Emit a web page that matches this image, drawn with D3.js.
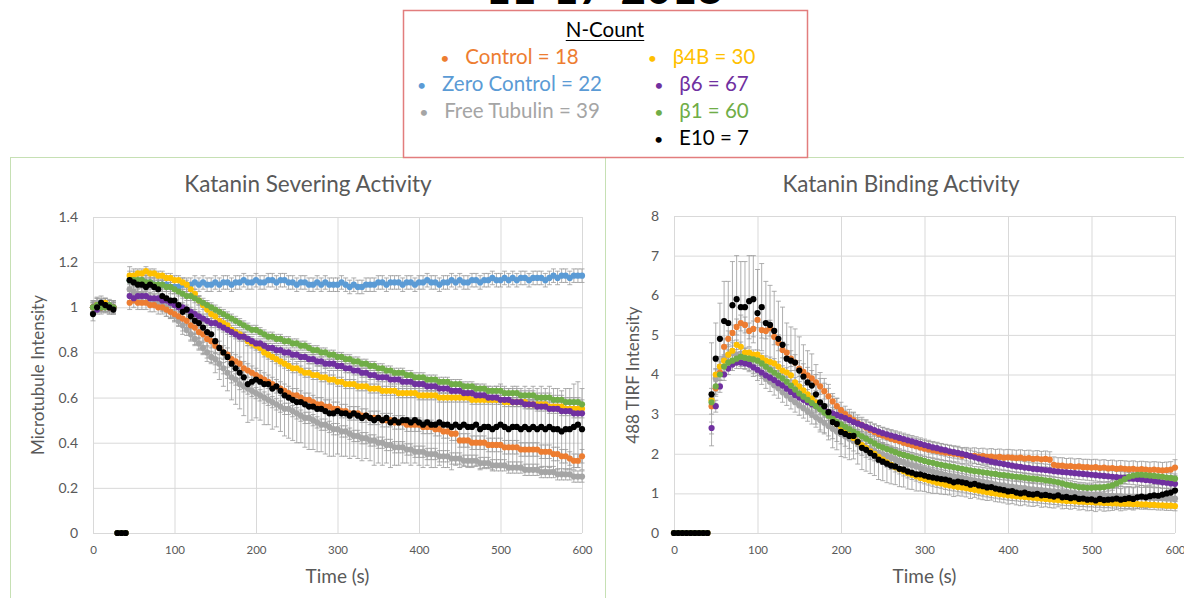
<!DOCTYPE html>
<html lang="en">
<head>
<meta charset="UTF-8">
<title>Katanin Severing / Binding Activity</title>
<script src="https://d3js.org/d3.v7.min.js"></script>
<style>
  body { margin: 0; background: #fff; overflow: hidden; }
  svg { display: block; font-family: Lato, "Open Sans", sans-serif; }
  .tick text { fill: #595959; font-family: Lato, sans-serif; }
  .grid line { stroke: #d9d9d9; stroke-width: 1; }
  .chart-title { fill: #595959; font-size: 22.5px; text-anchor: middle; }
  .axis-title { fill: #595959; font-size: 17px; text-anchor: middle; }
  .legend text { font-size: 20.5px; }
</style>
</head>
<body>
<svg id="chart" width="1184" height="598"></svg>
<script>
// ---- data ----
const times = [0,5,10,15,20,25,30,35,40,45,50,55,60,65,70,75,80,85,90,95,100,105,110,115,120,125,130,135,140,145,150,155,160,165,170,175,180,185,190,195,200,205,210,215,220,225,230,235,240,245,250,255,260,265,270,275,280,285,290,295,300,305,310,315,320,325,330,335,340,345,350,355,360,365,370,375,380,385,390,395,400,405,410,415,420,425,430,435,440,445,450,455,460,465,470,475,480,485,490,495,500,505,510,515,520,525,530,535,540,545,550,555,560,565,570,575,580,585,590,595,600];

const seriesNames  = ["Control", "Zero Control", "Free Tubulin", "β4B", "β6", "β1", "E10"];
const seriesCounts = [18, 22, 39, 30, 67, 60, 7];
const xTicks = [0, 100, 200, 300, 400, 500, 600];
const yTicksLeft = [0, 0.2, 0.4, 0.6, 0.8, 1, 1.2, 1.4];
const yTicksRight = [0, 1, 2, 3, 4, 5, 6, 7, 8];

// Katanin severing activity (microtubule intensity)
const ctrlL = [1.00,1.01,1.00,1.01,1.00,1.00,0,0,0,
1.02,1.03,1.02,1.02,1.02,1.01,1.01,1.00,1.00,0.99,
0.98,0.97,0.96,0.95,0.94,0.92,0.91,0.89,0.88,0.86,
0.85,0.83,0.82,0.80,0.79,0.77,0.76,0.75,0.73,0.72,
0.71,0.70,0.69,0.68,0.67,0.66,0.65,0.64,0.63,0.62,
0.61,0.61,0.60,0.59,0.59,0.58,0.57,0.57,0.56,0.56,
0.55,0.55,0.54,0.54,0.53,0.53,0.53,0.52,0.52,0.51,
0.51,0.51,0.50,0.50,0.50,0.49,0.49,0.49,0.48,0.48,
0.48,0.48,0.47,0.47,0.47,0.46,0.46,0.45,0.45,0.44,
0.44,0.41,0.41,0.41,0.40,0.40,0.40,0.40,0.39,0.39,
0.39,0.39,0.38,0.38,0.38,0.38,0.37,0.37,0.37,0.37,
0.37,0.36,0.36,0.36,0.35,0.35,0.34,0.34,0.33,0.32,
0.32,0.34];
const zeroL = [1.00,1.01,1.02,1.01,1.00,1.00,0,0,0,
1.12,1.12,1.11,1.12,1.11,1.11,1.10,1.10,1.10,1.10,
1.09,1.09,1.09,1.10,1.10,1.10,1.11,1.10,1.11,1.10,
1.10,1.11,1.10,1.11,1.11,1.10,1.11,1.11,1.12,1.11,
1.11,1.12,1.11,1.11,1.12,1.12,1.11,1.12,1.12,1.11,
1.11,1.10,1.11,1.11,1.10,1.10,1.11,1.10,1.11,1.10,
1.10,1.10,1.11,1.10,1.09,1.10,1.09,1.09,1.10,1.10,
1.10,1.11,1.11,1.10,1.11,1.11,1.11,1.10,1.11,1.11,
1.10,1.11,1.11,1.12,1.11,1.11,1.10,1.11,1.11,1.12,
1.11,1.12,1.11,1.11,1.12,1.12,1.11,1.12,1.12,1.13,
1.12,1.12,1.13,1.12,1.13,1.12,1.13,1.13,1.12,1.13,
1.13,1.13,1.12,1.13,1.14,1.13,1.14,1.14,1.13,1.14,
1.14,1.14];
const freeL = [1.00,1.02,1.01,1.00,1.01,1.00,0,0,0,
1.08,1.07,1.06,1.06,1.05,1.04,1.03,1.02,1.01,1.00,
0.98,0.96,0.94,0.92,0.90,0.88,0.86,0.84,0.82,0.80,
0.78,0.77,0.75,0.73,0.71,0.69,0.68,0.66,0.65,0.64,
0.63,0.62,0.61,0.60,0.59,0.58,0.57,0.56,0.55,0.55,
0.54,0.53,0.52,0.51,0.51,0.50,0.49,0.48,0.48,0.47,
0.46,0.46,0.45,0.45,0.44,0.43,0.43,0.42,0.42,0.41,
0.41,0.40,0.40,0.39,0.39,0.38,0.38,0.38,0.37,0.37,
0.36,0.36,0.36,0.35,0.35,0.35,0.34,0.34,0.34,0.33,
0.33,0.33,0.32,0.32,0.32,0.32,0.31,0.31,0.31,0.30,
0.30,0.30,0.30,0.29,0.29,0.29,0.29,0.28,0.28,0.28,
0.28,0.27,0.27,0.27,0.27,0.26,0.26,0.26,0.26,0.25,
0.25,0.25];
const b4bL = [1.00,1.01,1.00,1.02,1.00,1.00,0,0,0,
1.14,1.14,1.15,1.15,1.16,1.15,1.15,1.14,1.14,1.13,
1.13,1.12,1.12,1.11,1.10,1.08,1.06,1.03,1.01,0.99,
0.97,0.96,0.94,0.93,0.92,0.90,0.89,0.88,0.87,0.85,
0.84,0.83,0.82,0.80,0.79,0.78,0.77,0.76,0.75,0.74,
0.73,0.73,0.72,0.71,0.71,0.70,0.70,0.69,0.69,0.68,
0.68,0.67,0.67,0.66,0.66,0.66,0.65,0.65,0.65,0.64,
0.64,0.64,0.63,0.63,0.63,0.63,0.62,0.62,0.62,0.62,
0.62,0.61,0.61,0.61,0.61,0.61,0.60,0.60,0.60,0.60,
0.60,0.60,0.60,0.60,0.59,0.59,0.59,0.59,0.59,0.59,
0.59,0.59,0.58,0.58,0.58,0.58,0.58,0.58,0.57,0.57,
0.57,0.57,0.57,0.56,0.56,0.56,0.56,0.55,0.55,0.55,
0.55,0.55];
const b6L = [1.00,0.99,1.00,1.01,1.00,1.00,0,0,0,
1.05,1.04,1.05,1.05,1.05,1.04,1.04,1.04,1.03,1.03,
1.02,1.01,1.00,1.00,0.99,0.98,0.97,0.96,0.95,0.94,
0.93,0.93,0.92,0.91,0.90,0.89,0.88,0.87,0.87,0.86,
0.85,0.84,0.84,0.83,0.82,0.82,0.81,0.81,0.80,0.80,
0.79,0.79,0.78,0.78,0.77,0.77,0.76,0.76,0.75,0.75,
0.75,0.74,0.74,0.73,0.73,0.72,0.72,0.71,0.71,0.70,
0.70,0.69,0.69,0.69,0.68,0.68,0.68,0.67,0.67,0.67,
0.66,0.66,0.66,0.65,0.65,0.65,0.64,0.64,0.64,0.63,
0.63,0.63,0.62,0.62,0.62,0.61,0.61,0.61,0.60,0.60,
0.60,0.59,0.59,0.59,0.58,0.58,0.58,0.57,0.57,0.57,
0.56,0.56,0.56,0.55,0.55,0.55,0.54,0.54,0.54,0.53,
0.53,0.53];
const b1L = [1.00,1.01,1.00,1.00,1.01,1.00,0,0,0,
1.12,1.12,1.12,1.12,1.11,1.11,1.10,1.10,1.10,1.09,
1.09,1.08,1.07,1.06,1.05,1.05,1.04,1.03,1.02,1.01,
1.00,0.99,0.98,0.97,0.96,0.95,0.94,0.93,0.92,0.91,
0.90,0.90,0.89,0.88,0.87,0.87,0.86,0.86,0.85,0.85,
0.84,0.84,0.83,0.83,0.82,0.81,0.81,0.80,0.80,0.79,
0.79,0.78,0.78,0.77,0.77,0.76,0.76,0.75,0.75,0.74,
0.74,0.73,0.73,0.72,0.72,0.71,0.71,0.71,0.70,0.70,
0.69,0.69,0.69,0.68,0.68,0.68,0.67,0.67,0.67,0.66,
0.66,0.66,0.65,0.65,0.65,0.64,0.64,0.64,0.63,0.63,
0.63,0.63,0.62,0.62,0.62,0.62,0.61,0.61,0.61,0.61,
0.60,0.60,0.60,0.60,0.59,0.59,0.59,0.58,0.58,0.58,
0.58,0.57];
const e10L = [0.97,1.00,1.02,1.01,1.00,0.99,0,0,0,
1.12,1.11,1.10,1.10,1.09,1.10,1.09,1.08,1.05,1.04,
1.03,1.03,1.01,0.98,0.99,0.96,0.94,0.93,0.91,0.89,
0.88,0.85,0.82,0.80,0.78,0.75,0.73,0.71,0.69,0.66,
0.67,0.68,0.67,0.66,0.66,0.64,0.65,0.63,0.61,0.60,
0.59,0.58,0.58,0.57,0.56,0.56,0.55,0.55,0.54,0.53,
0.53,0.54,0.53,0.53,0.52,0.53,0.52,0.51,0.52,0.51,
0.50,0.51,0.50,0.51,0.49,0.50,0.49,0.50,0.50,0.49,
0.50,0.49,0.48,0.49,0.48,0.48,0.49,0.48,0.48,0.47,
0.48,0.47,0.48,0.47,0.47,0.48,0.46,0.47,0.47,0.46,
0.47,0.48,0.47,0.46,0.47,0.47,0.46,0.47,0.46,0.47,
0.46,0.47,0.46,0.47,0.46,0.46,0.45,0.46,0.46,0.47,
0.48,0.46];
const e10ErrL = [0.03,0.02,0.02,0.02,0.02,0.02,0,0,0,
0.06,0.06,0.06,0.06,0.06,0.06,0.07,0.07,0.07,0.08,
0.08,0.09,0.09,0.10,0.10,0.11,0.11,0.12,0.12,0.13,
0.13,0.14,0.14,0.15,0.15,0.16,0.16,0.16,0.17,0.17,
0.17,0.17,0.17,0.18,0.18,0.18,0.18,0.18,0.18,0.18,
0.18,0.18,0.18,0.19,0.19,0.19,0.19,0.19,0.19,0.19,
0.19,0.19,0.19,0.19,0.19,0.19,0.19,0.19,0.19,0.19,
0.20,0.20,0.20,0.20,0.20,0.20,0.19,0.19,0.19,0.19,
0.19,0.19,0.19,0.19,0.19,0.19,0.19,0.19,0.19,0.19,
0.18,0.18,0.18,0.18,0.18,0.18,0.18,0.18,0.18,0.18,
0.18,0.18,0.18,0.18,0.18,0.18,0.18,0.18,0.18,0.18,
0.18,0.18,0.18,0.18,0.18,0.18,0.18,0.18,0.18,0.19,
0.19,0.18];
// standard error of the other series (left chart), in series order
const errL = [0.03, 0.03, 0.025, 0.02, 0.02, 0.02];

// Katanin binding activity (488 TIRF intensity)
const ctrlR = [0,0,0,0,0,0,0,0,0,
3.20,3.65,4.05,4.70,4.90,5.05,5.20,5.30,5.25,5.10,
5.15,5.38,5.12,5.10,5.17,4.95,4.80,4.62,4.55,4.40,
4.30,4.15,4.07,3.98,3.90,3.80,3.70,3.58,3.45,3.32,
3.20,3.10,3.00,2.92,2.85,2.78,2.72,2.66,2.60,2.55,
2.50,2.46,2.42,2.38,2.35,2.32,2.28,2.25,2.22,2.19,
2.16,2.13,2.11,2.09,2.07,2.05,2.03,2.02,2.00,1.99,
1.95,1.96,1.94,1.95,1.93,1.94,1.92,1.93,1.91,1.92,
1.90,1.91,1.90,1.89,1.90,1.88,1.89,1.87,1.88,1.86,
1.87,1.85,1.72,1.70,1.70,1.68,1.69,1.67,1.68,1.66,
1.66,1.65,1.66,1.64,1.65,1.63,1.64,1.62,1.63,1.62,
1.61,1.62,1.60,1.61,1.60,1.59,1.60,1.59,1.58,1.59,
1.60,1.65];
const freeR = [0,0,0,0,0,0,0,0,0,
3.40,3.90,4.20,4.40,4.50,4.55,4.50,4.45,4.40,4.32,
4.20,4.10,4.00,3.90,3.82,3.73,3.65,3.55,3.47,3.38,
3.30,3.22,3.15,3.07,3.00,2.92,2.85,2.78,2.70,2.63,
2.56,2.50,2.44,2.38,2.32,2.26,2.21,2.16,2.11,2.07,
2.02,1.98,1.94,1.90,1.86,1.82,1.78,1.74,1.71,1.68,
1.64,1.61,1.58,1.55,1.52,1.50,1.47,1.45,1.43,1.41,
1.39,1.37,1.35,1.33,1.31,1.29,1.27,1.25,1.23,1.21,
1.20,1.18,1.17,1.15,1.14,1.13,1.11,1.10,1.09,1.08,
1.07,1.06,1.05,1.04,1.03,1.02,1.01,1.00,0.99,0.98,
0.98,0.97,0.96,0.96,0.95,0.94,0.94,0.93,0.93,0.92,
0.92,0.91,0.91,0.90,0.90,0.90,0.89,0.89,0.88,0.88,
0.88,0.87];
const b4bR = [0,0,0,0,0,0,0,0,0,
3.35,4.00,4.20,4.35,4.50,4.60,4.75,4.70,4.55,4.55,
4.50,4.50,4.42,4.35,4.32,4.28,4.20,4.10,4.05,3.98,
3.80,3.70,3.60,3.50,3.40,3.30,3.20,3.10,3.00,2.90,
2.75,2.68,2.58,2.48,2.40,2.30,2.22,2.14,2.06,2.00,
1.92,1.85,1.78,1.72,1.66,1.61,1.56,1.51,1.47,1.43,
1.39,1.36,1.33,1.30,1.27,1.25,1.22,1.20,1.18,1.16,
1.15,1.13,1.11,1.09,1.07,1.05,1.03,1.01,1.00,0.98,
0.97,0.95,0.94,0.93,0.92,0.91,0.90,0.89,0.88,0.87,
0.86,0.85,0.84,0.83,0.82,0.81,0.81,0.80,0.79,0.79,
0.78,0.78,0.77,0.77,0.76,0.76,0.75,0.75,0.74,0.74,
0.74,0.73,0.73,0.72,0.72,0.71,0.71,0.70,0.70,0.69,
0.69,0.68];
const b6R = [0,0,0,0,0,0,0,0,0,
2.65,3.20,3.70,4.00,4.15,4.25,4.30,4.30,4.28,4.25,
4.18,4.12,4.05,3.98,3.92,3.86,3.78,3.72,3.64,3.56,
3.48,3.42,3.36,3.30,3.25,3.20,3.15,3.10,3.06,3.02,
2.98,2.94,2.90,2.85,2.80,2.76,2.72,2.68,2.64,2.60,
2.56,2.52,2.49,2.46,2.43,2.40,2.37,2.34,2.31,2.28,
2.25,2.22,2.19,2.16,2.14,2.11,2.09,2.06,2.04,2.02,
2.00,1.97,1.94,1.91,1.88,1.85,1.83,1.80,1.78,1.76,
1.74,1.72,1.70,1.68,1.67,1.65,1.64,1.62,1.61,1.60,
1.59,1.58,1.56,1.55,1.54,1.53,1.52,1.51,1.50,1.49,
1.48,1.47,1.46,1.45,1.44,1.43,1.42,1.41,1.40,1.39,
1.38,1.37,1.36,1.35,1.34,1.33,1.31,1.30,1.28,1.27,
1.25,1.24];
const b1R = [0,0,0,0,0,0,0,0,0,
3.30,3.70,4.00,4.20,4.30,4.35,4.40,4.45,4.42,4.40,
4.38,4.35,4.28,4.20,4.12,4.05,3.98,3.90,3.82,3.72,
3.62,3.52,3.44,3.36,3.28,3.20,3.12,3.04,2.96,2.88,
2.80,2.74,2.68,2.62,2.56,2.50,2.44,2.38,2.32,2.26,
2.20,2.16,2.12,2.08,2.04,2.00,1.97,1.94,1.91,1.88,
1.85,1.82,1.79,1.77,1.74,1.72,1.70,1.68,1.66,1.64,
1.62,1.60,1.58,1.56,1.55,1.53,1.52,1.50,1.49,1.47,
1.46,1.45,1.43,1.42,1.41,1.40,1.38,1.37,1.36,1.35,
1.33,1.32,1.30,1.28,1.25,1.22,1.20,1.18,1.16,1.15,
1.14,1.14,1.15,1.15,1.16,1.18,1.20,1.25,1.30,1.36,
1.42,1.45,1.47,1.47,1.46,1.45,1.44,1.43,1.42,1.40,
1.39,1.37];
const e10R = [0,0,0,0,0,0,0,0,0,
3.50,4.40,4.90,5.35,5.30,5.75,5.90,5.70,5.70,5.85,
5.90,5.55,5.70,5.30,5.25,5.10,4.90,4.75,4.40,4.35,
4.30,4.10,3.95,3.80,3.72,3.50,3.30,3.20,3.05,2.80,
2.75,2.55,2.50,2.45,2.45,2.30,2.15,2.10,2.02,1.95,
1.85,1.80,1.75,1.70,1.68,1.62,1.60,1.55,1.52,1.48,
1.48,1.45,1.42,1.40,1.38,1.36,1.35,1.32,1.28,1.30,
1.28,1.26,1.22,1.24,1.20,1.18,1.15,1.16,1.12,1.10,
1.08,1.05,1.06,1.02,1.00,1.02,0.98,0.97,0.99,0.95,
0.96,0.94,0.92,0.95,0.90,0.91,0.88,0.90,0.86,0.87,
0.84,0.85,0.82,0.86,0.83,0.84,0.85,0.87,0.84,0.86,
0.88,0.86,0.90,0.92,0.90,0.93,0.95,0.94,0.97,1.00,
1.02,1.07];
const e10ErrR = [0,0,0,0,0,0,0,0,0,
1.30,0.90,0.90,1.00,1.05,1.10,1.10,1.15,1.15,1.15,
1.10,1.10,1.10,1.05,1.00,1.00,0.95,0.95,0.90,0.85,
0.85,0.85,0.80,0.80,0.80,0.75,0.75,0.70,0.70,0.65,
0.65,0.62,0.60,0.60,0.58,0.56,0.55,0.54,0.52,0.50,
0.50,0.48,0.48,0.46,0.46,0.45,0.44,0.44,0.42,0.42,
0.42,0.40,0.40,0.40,0.38,0.38,0.38,0.36,0.36,0.36,
0.35,0.35,0.35,0.34,0.34,0.34,0.33,0.33,0.33,0.32,
0.32,0.32,0.32,0.31,0.31,0.31,0.30,0.30,0.30,0.30,
0.30,0.30,0.29,0.29,0.29,0.29,0.28,0.28,0.28,0.28,
0.28,0.28,0.28,0.28,0.28,0.28,0.28,0.28,0.28,0.28,
0.28,0.28,0.28,0.28,0.28,0.28,0.28,0.28,0.28,0.28,
0.28,0.28];
// standard error of the other series (right chart): Control, Free Tubulin, β4B, β6, β1
const errR = [0.2, 0.25, 0.12, 0.15, 0.12];

// ---- style ----
const colors = {
  "Control": "#ED7D31", "Zero Control": "#5B9BD5", "Free Tubulin": "#A5A5A5",
  "β4B": "#FFC000", "β6": "#7030A0", "β1": "#70AD47", "E10": "#000000"
};

[ctrlL, zeroL, freeL, b4bL, b6L, b1L, e10L, e10ErrL, ctrlR, freeR, b4bR, b6R, b1R, e10R, e10ErrR]
  .forEach((a, i) => { if (a.length !== times.length) throw new Error("bad length " + i + ": " + a.length); });

const svg = d3.select("#chart");

// date heading, mostly cut off by the top edge
svg.append("text").attr("x", 604).attr("y", 4).attr("text-anchor", "middle")
  .style("font-size", "44px").style("font-weight", "bold").attr("fill", "#000")
  .text("11-17-2018");

// panel borders
svg.append("rect").attr("x", 10.5).attr("y", 157.5).attr("width", 595).attr("height", 450)
  .attr("fill", "none").attr("stroke", "#c6e0b4");
svg.append("rect").attr("x", 605.5).attr("y", 157.5).attr("width", 600).attr("height", 450)
  .attr("fill", "none").attr("stroke", "#c6e0b4");

function drawPanel(p) {
  const g = svg.append("g");
  const x = d3.scaleLinear().domain([0, 600]).range([p.x0, p.x1]);
  const y = d3.scaleLinear().domain([0, p.ymax]).range([533, p.ytop]);

  g.append("g").attr("class", "grid").attr("transform", "translate(0,533)")
    .call(d3.axisBottom(x).tickValues(xTicks).tickSize(-(533 - p.ytop)).tickFormat(""))
    .call(a => a.select(".domain").remove());
  g.append("g").attr("class", "grid").attr("transform", `translate(${p.x0},0)`)
    .call(d3.axisLeft(y).tickValues(p.yTicks).tickSize(-(p.x1 - p.x0)).tickFormat(""))
    .call(a => a.select(".domain").remove());

  g.append("g").attr("transform", "translate(0,533)")
    .call(d3.axisBottom(x).tickValues(xTicks).tickSize(0).tickPadding(13))
    .call(a => a.select(".domain").remove())
    .selectAll("text").style("font-size", "11.5px");
  g.append("g").attr("transform", `translate(${p.x0},0)`)
    .call(d3.axisLeft(y).tickValues(p.yTicks).tickSize(0).tickPadding(15).tickFormat(p.fmt))
    .call(a => a.select(".domain").remove())
    .selectAll("text").style("font-size", "14px");

  g.append("text").attr("class", "chart-title").attr("x", p.titleX).attr("y", 192).text(p.title);
  g.append("text").attr("class", "axis-title").attr("x", (p.x0 + p.x1) / 2).attr("y", 583)
    .style("font-size", "19px").text("Time (s)");
  g.append("text").attr("class", "axis-title")
    .attr("transform", `translate(${p.ylabX},375) rotate(-90)`).text(p.ylabel);

  // error bars first, markers on top
  const eb = g.append("g").attr("stroke", "#9a9a9a").attr("stroke-width", 0.8);
  p.series.forEach(s => {
    const pts = times.map((t, i) => ({ t, v: s.values[i], e: s.err ? s.err[i] : s.errConst }))
      .filter(d => d.v !== 0 && d.e > 0);
    const sel = eb.append("g").selectAll("g").data(pts).join("g");
    sel.append("line").attr("x1", d => x(d.t)).attr("x2", d => x(d.t))
      .attr("y1", d => y(d.v - d.e)).attr("y2", d => y(d.v + d.e));
    sel.append("line").attr("x1", d => x(d.t) - 2.5).attr("x2", d => x(d.t) + 2.5)
      .attr("y1", d => y(d.v + d.e)).attr("y2", d => y(d.v + d.e));
    sel.append("line").attr("x1", d => x(d.t) - 2.5).attr("x2", d => x(d.t) + 2.5)
      .attr("y1", d => y(d.v - d.e)).attr("y2", d => y(d.v - d.e));
  });
  p.series.forEach(s => {
    g.append("g").selectAll("circle").data(times.map((t, i) => ({ t, v: s.values[i] })))
      .join("circle")
      .attr("cx", d => x(d.t)).attr("cy", d => y(d.v)).attr("r", 3.1)
      .attr("fill", colors[s.name]);
  });
}

drawPanel({
  x0: 93, x1: 582, ytop: 217, ymax: 1.4, yTicks: yTicksLeft, fmt: d3.format("~g"),
  title: "Katanin Severing Activity", titleX: 308, ylabel: "Microtubule Intensity", ylabX: 44,
  series: [
    { name: "Free Tubulin", values: freeL, errConst: errL[2] },
    { name: "Zero Control", values: zeroL, errConst: errL[1] },
    { name: "Control", values: ctrlL, errConst: errL[0] },
    { name: "β4B", values: b4bL, errConst: errL[3] },
    { name: "β6", values: b6L, errConst: errL[4] },
    { name: "β1", values: b1L, errConst: errL[5] },
    { name: "E10", values: e10L, err: e10ErrL }
  ]
});

drawPanel({
  x0: 674, x1: 1175, ytop: 216, ymax: 8, yTicks: yTicksRight, fmt: d3.format("d"),
  title: "Katanin Binding Activity", titleX: 901, ylabel: "488 TIRF Intensity", ylabX: 639,
  series: [
    { name: "Free Tubulin", values: freeR, errConst: errR[1] },
    { name: "Control", values: ctrlR, errConst: errR[0] },
    { name: "β4B", values: b4bR, errConst: errR[2] },
    { name: "β6", values: b6R, errConst: errR[3] },
    { name: "β1", values: b1R, errConst: errR[4] },
    { name: "E10", values: e10R, err: e10ErrR }
  ]
});

// N-count legend box
const lg = svg.append("g").attr("class", "legend");
lg.append("rect").attr("x", 403.5).attr("y", 10.5).attr("width", 404).attr("height", 147)
  .attr("fill", "#fff").attr("stroke", "#e27d7d").attr("stroke-width", 1.5);
const head = lg.append("text").attr("x", 605).attr("y", 37).attr("text-anchor", "middle")
  .attr("fill", "#000").text("N-Count");
const hw = head.node().getComputedTextLength();
lg.append("line").attr("x1", 605 - hw / 2).attr("x2", 605 + hw / 2).attr("y1", 40.5).attr("y2", 40.5)
  .attr("stroke", "#000").attr("stroke-width", 1.2);

const columns = [
  { cx: 522, names: ["Control", "Zero Control", "Free Tubulin"] },
  { cx: 714, names: ["β4B", "β6", "β1", "E10"] }
];
columns.forEach(col => {
  col.names.forEach((n, r) => {
    const k = seriesNames.indexOf(n);
    const yy = 64 + 27 * r;
    const t = lg.append("text").attr("x", col.cx).attr("y", yy).attr("text-anchor", "middle")
      .attr("fill", colors[n]).text(`${n} = ${seriesCounts[k]}`);
    const w = t.node().getComputedTextLength();
    lg.append("text").attr("x", col.cx - w / 2 - 25).attr("y", yy).attr("fill", colors[n])
      .style("font-size", "16px").text("•");
  });
});
</script>
</body>
</html>
